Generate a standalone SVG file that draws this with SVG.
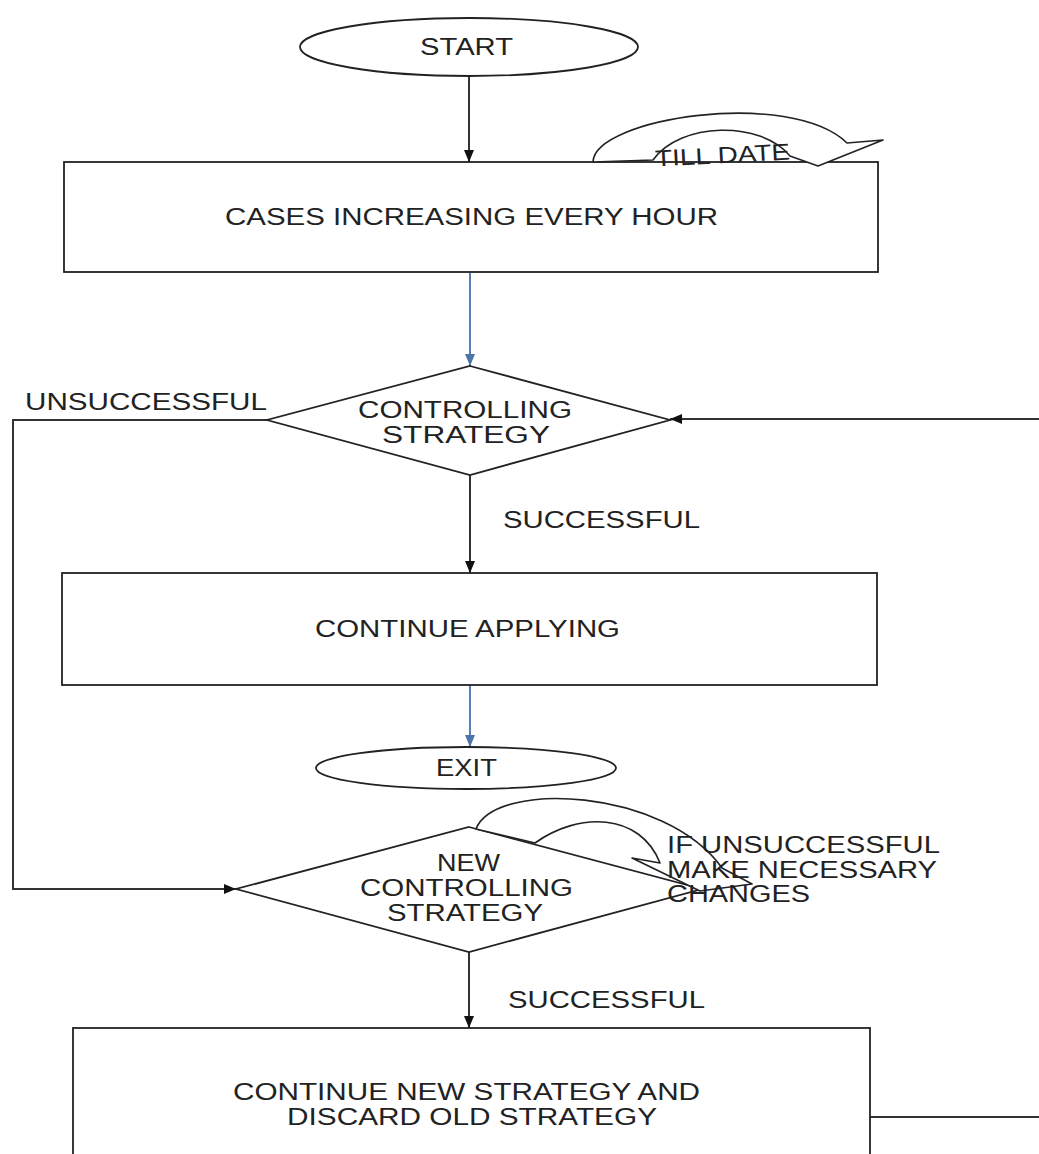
<svg xmlns="http://www.w3.org/2000/svg" width="1039" height="1154" viewBox="0 0 1039 1154">
<style>
.shape{fill:#fff;stroke:#222;stroke-width:1.8}
.conn{fill:none;stroke:#333;stroke-width:2}
.blue{fill:none;stroke:#5b7fb3;stroke-width:2}
.curv{fill:#fff;stroke:#222;stroke-width:1.6;stroke-linejoin:round}
text{font-family:"Liberation Sans",Arial,sans-serif;font-size:23px;fill:#222}
</style>
<defs>
<marker id="ah" viewBox="0 0 12 10" refX="12" refY="5" markerWidth="12" markerHeight="10" markerUnits="userSpaceOnUse" orient="auto">
<path d="M0,0 L12,5 L0,10 Z" fill="#111"/>
</marker>
<marker id="ahb" viewBox="0 0 12 10" refX="12" refY="5" markerWidth="12" markerHeight="10" markerUnits="userSpaceOnUse" orient="auto">
<path d="M0,0 L12,5 L0,10 Z" fill="#4f74aa"/>
</marker>
</defs>
<rect width="1039" height="1154" fill="#fff"/>

<g id="connectors">
<line class="conn" x1="469" y1="77" x2="469" y2="162" marker-end="url(#ah)"/>
<line class="blue" x1="470" y1="273" x2="470" y2="366" marker-end="url(#ahb)"/>
<line class="conn" x1="470" y1="475" x2="470" y2="573" marker-end="url(#ah)"/>
<line class="blue" x1="470" y1="685" x2="470" y2="747" marker-end="url(#ahb)"/>
<polyline class="conn" points="267,420 13,420 13,889 236,889" marker-end="url(#ah)"/>
<line class="conn" x1="1039" y1="419" x2="670" y2="419" marker-end="url(#ah)"/>
<line class="conn" x1="469" y1="952" x2="469" y2="1028" marker-end="url(#ah)"/>
<line class="conn" x1="870" y1="1117" x2="1039" y2="1117"/>
<text x="25" y="410" textLength="242" lengthAdjust="spacingAndGlyphs">UNSUCCESSFUL</text>
<text x="503" y="528" textLength="197" lengthAdjust="spacingAndGlyphs">SUCCESSFUL</text>
<text x="508" y="1008" textLength="197" lengthAdjust="spacingAndGlyphs">SUCCESSFUL</text>
</g>

<g id="start">
<ellipse class="shape" cx="469" cy="47" rx="169" ry="29"/>
<text x="420" y="55" textLength="93" lengthAdjust="spacingAndGlyphs">START</text>
</g>

<g id="cases">
<rect class="shape" x="64" y="162" width="814" height="110"/>
<text x="225" y="225" textLength="493" lengthAdjust="spacingAndGlyphs">CASES INCREASING EVERY HOUR</text>
</g>

<g id="till-date">
<path class="curv" d="M593,162 C594,118 790,88 847,143 L883,140 L818,166 L790,156 C760,120 680,122 653,160 Z"/>
<text x="655" y="163" textLength="135" lengthAdjust="spacingAndGlyphs" transform="rotate(-3 722 155)">TILL DATE</text>
</g>

<g id="controlling-strategy">
<polygon class="shape" points="470,366 670,420 470,475 267,420"/>
<text x="358" y="418" textLength="214" lengthAdjust="spacingAndGlyphs">CONTROLLING</text>
<text x="382" y="443" textLength="168" lengthAdjust="spacingAndGlyphs">STRATEGY</text>
</g>

<g id="continue-applying">
<rect class="shape" x="62" y="573" width="815" height="112"/>
<text x="315" y="637" textLength="305" lengthAdjust="spacingAndGlyphs">CONTINUE APPLYING</text>
</g>

<g id="exit">
<ellipse class="shape" cx="466" cy="768" rx="150" ry="21"/>
<text x="436" y="776" textLength="61" lengthAdjust="spacingAndGlyphs">EXIT</text>
</g>

<g id="new-controlling-strategy">
<polygon class="shape" points="469,827 702,889 469,952 236,889"/>
<path class="curv" d="M476,829 C495,780 665,788 722,868 L752,884 L700,891 L632,858 L660,863 C640,812 578,812 535,843 Z"/>
<text x="437" y="871" textLength="63" lengthAdjust="spacingAndGlyphs">NEW</text>
<text x="360" y="896" textLength="213" lengthAdjust="spacingAndGlyphs">CONTROLLING</text>
<text x="387" y="921" textLength="156" lengthAdjust="spacingAndGlyphs">STRATEGY</text>
<text x="667" y="853" textLength="273" lengthAdjust="spacingAndGlyphs">IF UNSUCCESSFUL</text>
<text x="667" y="878" textLength="270" lengthAdjust="spacingAndGlyphs">MAKE NECESSARY</text>
<text x="667" y="902" textLength="143" lengthAdjust="spacingAndGlyphs">CHANGES</text>
</g>

<g id="continue-new-strategy">
<rect class="shape" x="73" y="1028" width="797" height="140"/>
<text x="233" y="1100" textLength="467" lengthAdjust="spacingAndGlyphs">CONTINUE NEW STRATEGY AND</text>
<text x="287" y="1125" textLength="370" lengthAdjust="spacingAndGlyphs">DISCARD OLD STRATEGY</text>
</g>
</svg>
